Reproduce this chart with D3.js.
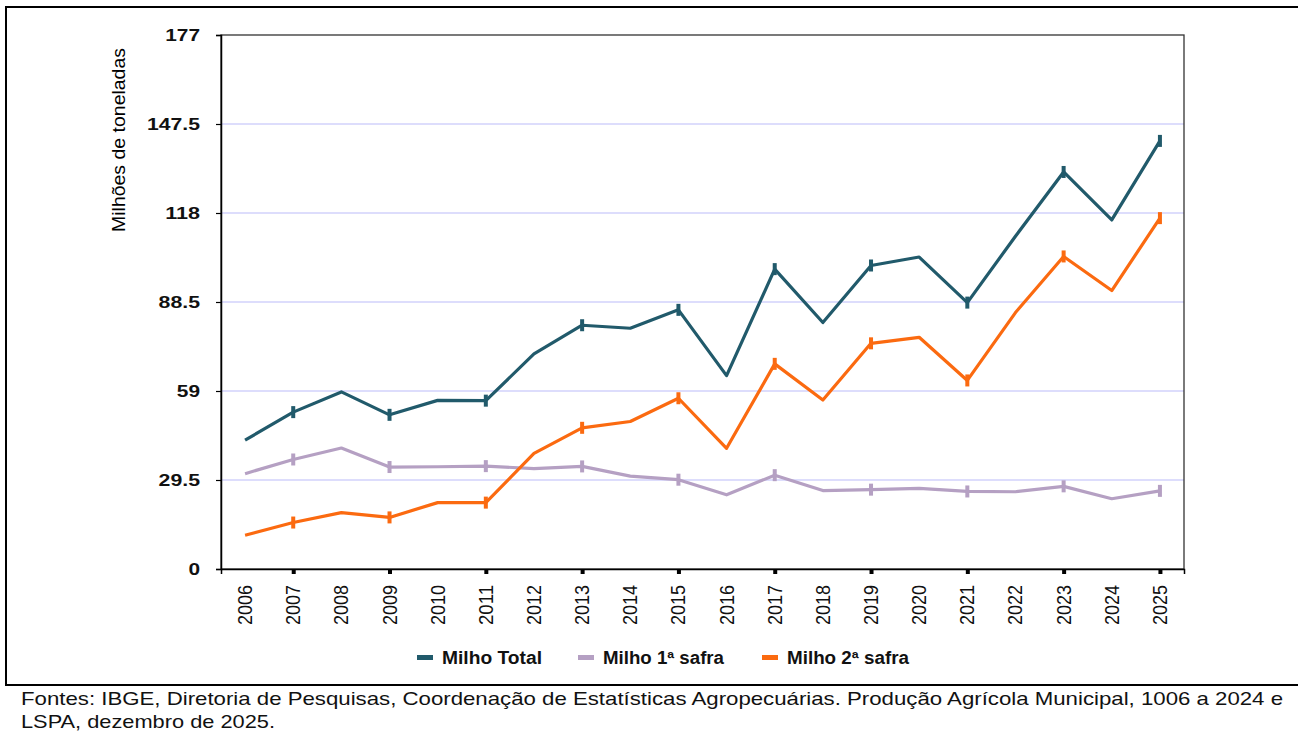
<!DOCTYPE html>
<html><head><meta charset="utf-8">
<script src="https://cdn.jsdelivr.net/npm/d3@7"></script>
<style>
html,body{margin:0;padding:0;background:#fff;}
svg{display:block;}
</style></head>
<body>
<svg id="chart" width="1298" height="733"></svg>
<script>
const years = [2006,2007,2008,2009,2010,2011,2012,2013,2014,2015,2016,2017,2018,2019,2020,2021,2022,2023,2024,2025];
const milhoTotal = [42.7,52.0,58.7,51.1,55.9,55.8,71.3,80.8,79.8,85.9,64.1,99.4,81.7,100.6,103.4,88.3,110.3,131.6,115.7,141.9];
const milho1Safra = [31.6,36.3,40.1,33.8,33.9,34.1,33.3,34.0,30.8,29.6,24.6,31.1,26.0,26.3,26.7,25.7,25.6,27.4,23.3,25.9];
const milho2Safra = [11.2,15.4,18.7,17.1,22.0,22.0,38.3,46.8,48.9,56.6,40.0,68.0,56.0,74.8,76.8,62.5,85.0,103.6,92.3,116.3];
const markedYears = [2007,2009,2011,2013,2015,2017,2019,2021,2023,2025];
const yTicks = [0,29.5,59,88.5,118,147.5,177];
const seriesNames = ["Milho Total","Milho 1ª safra","Milho 2ª safra"];
const seriesColors = ["#215a6b","#b5a0c3","#fb6a10"];
const yTitle = "Milhões de toneladas";
const footer1 = "Fontes: IBGE, Diretoria de Pesquisas, Coordenação de Estatísticas Agropecuárias. Produção Agrícola Municipal, 1006 a 2024 e";
const footer2 = "LSPA, dezembro de 2025.";

const svg = d3.select("#chart");
const L = 221, R = 1184, T = 35, B = 569;
const x = d3.scalePoint().domain(years).range([L, R]).padding(0.5);
const y = d3.scaleLinear().domain([0, 177]).range([B, T]);

// outer frame
svg.append("line").attr("x1",5).attr("x2",1298).attr("y1",7).attr("y2",7).attr("stroke","#000").attr("stroke-width",2);
svg.append("line").attr("x1",6).attr("x2",6).attr("y1",6).attr("y2",686).attr("stroke","#000").attr("stroke-width",2);
svg.append("line").attr("x1",5).attr("x2",1298).attr("y1",685).attr("y2",685).attr("stroke","#000").attr("stroke-width",2);

// gridlines
svg.append("g").selectAll("line").data(yTicks.filter(v => v > 0 && v < 177)).join("line")
  .attr("x1", L).attr("x2", R).attr("y1", d => y(d)).attr("y2", d => y(d))
  .attr("stroke", "#d2d2fb").attr("stroke-width", 1.3);

// plot border
svg.append("rect").attr("x", L).attr("y", T).attr("width", R - L).attr("height", B - T)
  .attr("fill", "none").attr("stroke", "#333").attr("stroke-width", 1.3);

// y axis
const yAxis = svg.append("g").attr("transform", `translate(${L},0)`)
  .call(d3.axisLeft(y).tickValues(yTicks).tickSize(5).tickPadding(0).tickFormat(d => String(d)));
yAxis.select(".domain").attr("stroke", "#000").attr("stroke-width", 1.5);
yAxis.selectAll(".tick line").attr("stroke", "#000").attr("stroke-width", 1.2);
yAxis.selectAll(".tick text").remove();
yAxis.selectAll(".tick").append("text")
  .attr("x", -21).attr("dy", "0.36em").attr("text-anchor", "end")
  .attr("fill", "#111").style("font-family", "Liberation Sans, Arial, sans-serif")
  .style("font-weight", "bold").style("font-size", "16.5px")
  .attr("textLength", d => String(d).length * 11.6 - (String(d).includes(".") ? 5 : 0))
  .attr("lengthAdjust", "spacingAndGlyphs")
  .text(d => String(d));

// x axis
const xAxis = svg.append("g").attr("transform", `translate(0,${B})`)
  .call(d3.axisBottom(x).tickValues(markedYears).tickSize(5).tickFormat(""));
xAxis.select(".domain").attr("stroke", "#000").attr("stroke-width", 1.5);
xAxis.selectAll(".tick line").attr("stroke", "#000").attr("stroke-width", 4);

svg.append("g").selectAll("text").data(years).join("text")
  .attr("transform", d => `translate(${x(d) + 7},585) rotate(-90)`)
  .attr("text-anchor", "end")
  .style("font-family", "Liberation Sans Narrow, Liberation Sans, Arial, sans-serif")
  .style("font-size", "21px").attr("fill", "#111")
  .attr("textLength", 40).attr("lengthAdjust", "spacingAndGlyphs")
  .text(d => d);

// y title
svg.append("text").attr("transform", "translate(125,140) rotate(-90)")
  .attr("text-anchor", "middle").attr("fill", "#000")
  .style("font-family", "Liberation Sans, Arial, sans-serif").style("font-size", "19px")
  .attr("textLength", 184).attr("lengthAdjust", "spacingAndGlyphs")
  .text(yTitle);

// lines
const allSeries = [milhoTotal, milho1Safra, milho2Safra];
const line = d3.line().x((d, i) => x(years[i])).y(d => y(d));
const order = [1, 2, 0];
order.forEach(k => {
  const g = svg.append("g");
  g.append("path").datum(allSeries[k]).attr("d", line)
    .attr("fill", "none").attr("stroke", seriesColors[k]).attr("stroke-width", 3.2)
    .attr("stroke-linejoin", "round");
  g.selectAll("rect").data(years.map((yr, i) => ({yr, v: allSeries[k][i]})).filter(d => markedYears.includes(d.yr)))
    .join("rect")
    .attr("x", d => x(d.yr) - 2).attr("y", d => y(d.v) - 6)
    .attr("width", 4).attr("height", 12).attr("fill", seriesColors[k]);
});

// legend
const legendX = [417, 578, 762];
const legendW = [100, 121, 122];
const lg = svg.append("g");
seriesNames.forEach((n, k) => {
  lg.append("rect").attr("x", legendX[k]).attr("y", 655).attr("width", 16).attr("height", 5).attr("fill", seriesColors[k]);
  lg.append("text").attr("x", legendX[k] + 25).attr("y", 664)
    .style("font-family", "Liberation Sans, Arial, sans-serif").style("font-weight", "bold").style("font-size", "18px")
    .attr("fill", "#111").attr("textLength", legendW[k]).attr("lengthAdjust", "spacingAndGlyphs")
    .text(n);
});

// footer
svg.append("text").attr("x", 21).attr("y", 705)
  .style("font-family", "Liberation Sans, Arial, sans-serif").style("font-size", "18.5px").attr("fill", "#111")
  .attr("textLength", 1262).attr("lengthAdjust", "spacingAndGlyphs").text(footer1);
svg.append("text").attr("x", 21).attr("y", 728)
  .style("font-family", "Liberation Sans, Arial, sans-serif").style("font-size", "18.5px").attr("fill", "#111")
  .attr("textLength", 254).attr("lengthAdjust", "spacingAndGlyphs").text(footer2);
</script>
</body></html>
